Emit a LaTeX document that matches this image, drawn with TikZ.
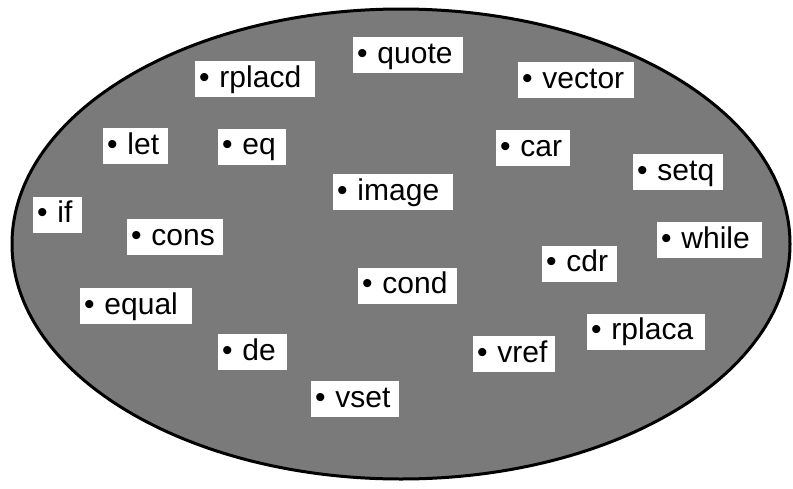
\documentclass[tikz,border=0pt]{standalone}
\usepackage{fontspec}
\setmainfont{Liberation Sans}
\usetikzlibrary{shapes.geometric}
\begin{document}
\begin{tikzpicture}[x=1pt,y=-1pt,
  lbl/.style={fill=white, font=\fontsize{30}{32}\selectfont, inner xsep=4pt, inner ysep=4pt,
    text height=22pt, text depth=6pt, align=left, anchor=center}]
\useasboundingbox (0,0) rectangle (793,488);
\node[draw=black, line width=3pt, fill=black!52, ellipse, minimum width=778pt, minimum height=470pt, inner sep=0pt] (set) at (401,244) {};
\node[lbl, text width=102pt] (quote)  at (408,55)    {• quote};
\node[lbl, text width=112pt] (rplacd) at (255,79)    {• rplacd};
\node[lbl, text width=108pt] (vector) at (576,80)    {• vector};
\node[lbl, text width=57pt]  (let)    at (135.5,146) {• let};
\node[lbl, text width=60pt]  (eq)     at (252,146.5) {• eq};
\node[lbl, text width=66pt]  (car)    at (533,148)   {• car};
\node[lbl, text width=82pt]  (setq)   at (678,172)   {• setq};
\node[lbl, text width=112pt] (image)  at (393,192)   {• image};
\node[lbl, text width=41pt]  (if)     at (57.5,214.5){• if};
\node[lbl, text width=88pt]  (cons)   at (175,237)   {• cons};
\node[lbl, text width=97pt]  (while)  at (709.5,240) {• while};
\node[lbl, text width=67pt]  (cdr)    at (579.5,263.5){• cdr};
\node[lbl, text width=91pt]  (cond)   at (407.5,285.5){• cond};
\node[lbl, text width=104pt] (equal)  at (136,306)   {• equal};
\node[lbl, text width=110pt] (rplaca) at (646,331.5) {• rplaca};
\node[lbl, text width=61pt]  (de)     at (252.5,352) {• de};
\node[lbl, text width=74pt]  (vref)   at (514,354)   {• vref};
\node[lbl, text width=80pt]  (vset)   at (355,399)   {• vset};
\end{tikzpicture}
\end{document}
